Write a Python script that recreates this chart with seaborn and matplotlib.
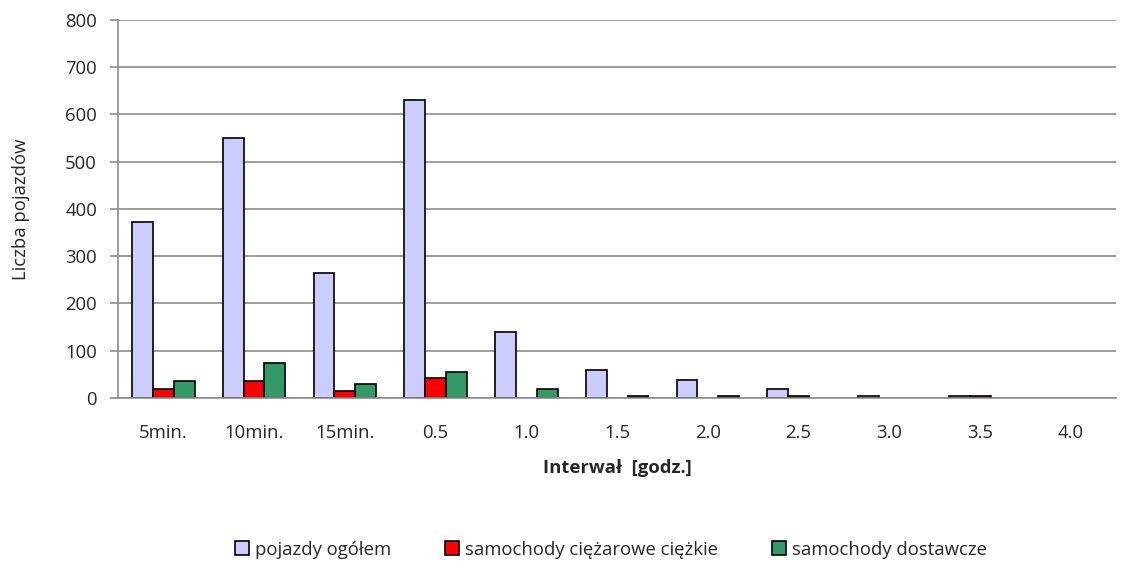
import numpy as np
import pandas as pd
import seaborn as sns
import matplotlib.pyplot as plt
from matplotlib.patches import Patch

# Values
interwaly = ["5min.", "10min.", "15min.", "0.5", "1.0", "1.5", "2.0", "2.5", "3.0", "3.5", "4.0"]
pojazdy_ogolem = [372, 549, 265, 630, 140, 58, 38, 19, 3, 3, np.nan]
ciezarowe_ciezkie = [19, 35, 15, 42, np.nan, np.nan, np.nan, 3, np.nan, 3, np.nan]
dostawcze = [35, 73, 30, 54, 19, 3, 3, np.nan, np.nan, np.nan, np.nan]

serie = ["pojazdy ogółem", "samochody ciężarowe ciężkie", "samochody dostawcze"]
kolory = ["#CCCCFF", "#FF0000", "#339966"]

df = pd.DataFrame({
    "interwal": interwaly * 3,
    "liczba": pojazdy_ogolem + ciezarowe_ciezkie + dostawcze,
    "seria": [s for s in serie for _ in interwaly],
})

sns.set_style("white")
plt.rcParams["font.family"] = ["Open Sans", "DejaVu Sans"]
FS = 13.3

fig = plt.figure(figsize=(11.23, 5.66), dpi=100)
ax = fig.add_axes([0.105, 0.297, 0.889, 0.668])

sns.barplot(data=df, x="interwal", y="liczba", hue="seria", hue_order=serie,
            order=interwaly, palette=kolory, width=0.69, edgecolor="black",
            linewidth=1.2, saturation=1, errorbar=None, legend=False, ax=ax)

ax.set_ylim(0, 800)
ax.set_xlim(-0.5, len(interwaly) - 0.5)
ax.set_yticks(range(0, 801, 100))
ax.yaxis.grid(True, color="#8c8c8c", linewidth=1.2)
ax.set_axisbelow(True)

for s in ["top", "right"]:
    ax.spines[s].set_visible(False)
for s in ["left", "bottom"]:
    ax.spines[s].set_color("#8c8c8c")
    ax.spines[s].set_linewidth(1.2)

# category boundary tick marks on x, none at the labels
ax.set_xticks(np.arange(-0.5, len(interwaly), 1), minor=True)
ax.tick_params(axis="x", which="major", length=0, pad=19, labelsize=FS)
ax.tick_params(axis="x", which="minor", length=6, color="#8c8c8c", width=1.2, direction="out")
ax.tick_params(axis="y", length=6, color="#8c8c8c", width=1.2, direction="out", labelsize=FS, pad=9)
ax.tick_params(bottom=True, left=True)

ax.set_xlabel("Interwał  [godz.]", fontsize=FS, fontweight="bold", labelpad=12)
ax.set_ylabel("Liczba pojazdów", fontsize=FS, labelpad=25)

uchwyty = [Patch(facecolor=c, edgecolor="black", linewidth=1.2) for c in kolory]
fig.legend(uchwyty, serie, loc="center", bbox_to_anchor=(0.544, 0.029), ncol=3,
           frameon=False, fontsize=FS, handlelength=0.75, handleheight=0.75,
           handletextpad=0.35, columnspacing=2.9)

fig.savefig("out.png", dpi=100)
